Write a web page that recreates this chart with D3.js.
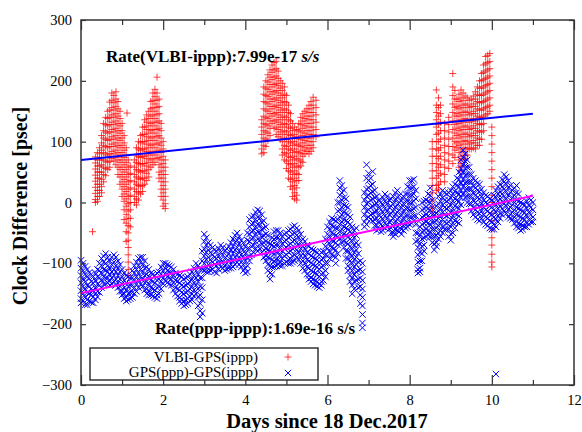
<!DOCTYPE html>
<html>
<head>
<meta charset="utf-8">
<script src="https://cdn.jsdelivr.net/npm/d3@7"></script>
<style>
  body { margin: 0; background: #fff; }
  text { font-family: "Liberation Serif", "Times New Roman", serif; }
</style>
<title>Clock Difference</title>
</head>
<body>
<div id="chart"></div>
<script>
// tick values
var xTicks = [0, 2, 4, 6, 8, 10, 12];
var xMinor = [1, 3, 5, 7, 9, 11];
var yTicks = [-300, -200, -100, 0, 100, 200, 300];

// VLBI-GPS(ippp): [day, [psec values read at that day]]
var vlbiData = [
  [0.28, [-48]],
  [0.35, [75, 65, 55, 45, 35, 25, 15, 5, 0]],
  [0.4, [82, 70, 60, 50, 40, 30, 20, 10, 2]],
  [0.45, [90, 80, 70, 60, 50, 40, 30, 20, 10]],
  [0.5, [110, 98, 86, 74, 62, 50, 38, 26, 16]],
  [0.55, [130, 118, 106, 94, 82, 70, 58, 46, 34]],
  [0.6, [140, 128, 116, 104, 92, 80, 68, 56, 44]],
  [0.65, [150, 138, 126, 114, 102, 90, 78, 66, 54]],
  [0.7, [165, 152, 140, 128, 116, 104, 92, 80, 68, 58]],
  [0.75, [180, 168, 156, 144, 132, 120, 108, 96, 84, 72]],
  [0.8, [176, 164, 152, 140, 128, 116, 104, 92, 80, 68]],
  [0.85, [182, 170, 158, 146, 134, 122, 110, 98, 86, 74, 62]],
  [0.9, [166, 154, 142, 130, 118, 106, 94, 82, 70, 58, 46]],
  [0.95, [150, 138, 126, 114, 102, 90, 78, 66, 54, 42, 30]],
  [1.0, [130, 118, 106, 94, 82, 70, 58, 46, 34, 22, 10]],
  [1.05, [110, 98, 86, 74, 62, 50, 38, 26, 14, 2, -12, -28]],
  [1.1, [90, 78, 66, 54, 42, 30, 18, 6, -6, -20, -34, -48, -64]],
  [1.12, [147]],
  [1.15, [70, 58, 46, 34, 22, 10, -2, -14, -26, -38, -50, -62, -74, -86, -98, -110, -120]],
  [1.2, [60, 48, 36, 24, 12, 0, -12, -26, -40]],
  [1.3, [70, 58, 46, 34, 22, 10, 0]],
  [1.35, [90, 78, 66, 54, 42, 30, 18, 6, -4]],
  [1.4, [100, 88, 76, 64, 52, 40, 28, 16, 4]],
  [1.45, [110, 98, 86, 74, 62, 50, 38, 26, 14]],
  [1.5, [124, 112, 100, 88, 76, 64, 52, 40, 28, 18]],
  [1.55, [136, 124, 112, 100, 88, 76, 64, 52, 40, 30]],
  [1.6, [144, 132, 120, 108, 96, 84, 72, 60, 48, 36]],
  [1.65, [150, 138, 126, 114, 102, 90, 78, 66, 54, 42]],
  [1.7, [166, 154, 142, 130, 118, 106, 94, 82, 70, 58]],
  [1.75, [180, 168, 156, 144, 132, 120, 108, 96, 84, 72, 62]],
  [1.8, [186, 174, 162, 150, 138, 126, 114, 102, 90, 78, 66]],
  [1.85, [206, 180, 168, 156, 144, 132, 120, 108, 96, 84, 72]],
  [1.9, [170, 158, 146, 134, 122, 110, 98, 86, 74, 62, 50, 40]],
  [1.95, [130, 118, 106, 94, 82, 70, 58, 46, 34, 22, 10]],
  [2.0, [100, 88, 76, 64, 52, 40, 28, 16, 4, -6]],
  [2.05, [70, 58, 46, 34, 22, 10, -2, -10]],
  [4.4, [136, 124, 112, 100, 88, 80]],
  [4.45, [190, 178, 166, 154, 142, 130, 118, 106, 94, 82]],
  [4.5, [200, 188, 176, 164, 152, 140, 128, 116, 104, 92]],
  [4.55, [210, 198, 186, 174, 162, 150, 138, 126, 114, 102]],
  [4.6, [218, 206, 194, 182, 170, 158, 146, 134, 122, 110]],
  [4.65, [226, 214, 202, 190, 178, 166, 154, 142, 130]],
  [4.7, [230, 218, 206, 194, 182, 170, 158, 146, 134, 122]],
  [4.75, [232, 220, 208, 196, 184, 172, 160, 148, 136, 124, 112]],
  [4.8, [216, 204, 192, 180, 168, 156, 144, 132, 120, 108]],
  [4.85, [200, 188, 176, 164, 152, 140, 128, 116, 104]],
  [4.9, [196, 184, 172, 160, 148, 136, 124, 112, 100, 88, 78]],
  [4.95, [190, 178, 166, 154, 142, 130, 118, 106, 94, 82, 70]],
  [5.0, [176, 164, 152, 140, 128, 116, 104, 92, 80, 68, 56]],
  [5.05, [160, 148, 136, 124, 112, 100, 88, 76, 64, 52, 40]],
  [5.1, [146, 134, 122, 110, 98, 86, 74, 62, 50, 38, 26]],
  [5.15, [130, 118, 106, 94, 82, 70, 58, 46, 34, 22, 10]],
  [5.2, [124, 112, 100, 88, 76, 64, 52, 40, 28, 16, 6]],
  [5.25, [120, 108, 96, 84, 72, 60, 48, 36, 24, 12, 4]],
  [5.3, [130, 118, 106, 94, 82, 70, 58, 46, 36]],
  [5.35, [140, 128, 116, 104, 92, 80, 68, 60]],
  [5.4, [146, 134, 122, 110, 98, 86, 76, 66]],
  [5.45, [150, 138, 126, 114, 102, 90, 80]],
  [5.5, [154, 142, 130, 118, 106, 94, 84]],
  [5.55, [160, 148, 136, 124, 112, 100, 88, 80]],
  [5.6, [166, 154, 142, 130, 118, 106, 94, 84]],
  [5.65, [173, 160, 148, 136, 124, 112, 100, 90]],
  [5.72, [168, 156, 144, 132, 120, 108]],
  [8.55, [100, 88, 76, 64, 52, 40, 28, 16, 4, -8, -15]],
  [8.65, [185, 160, 148, 136, 124, 112, 100, 88, 76, 64, 52, 40, 28, 20]],
  [8.7, [172, 156, 142, 128, 114, 100, 86, 72, 58, 44, 30, 22]],
  [8.75, [160, 146, 132, 118, 104, 90, 76, 62, 48, 34]],
  [8.85, [130, 118, 106, 94, 82, 70, 58, 46, 34]],
  [8.95, [140, 128, 116, 104, 92, 80, 68, 56]],
  [9.05, [212, 190, 176, 162, 148, 134, 120, 106, 92, 78, 64]],
  [9.1, [184, 170, 156, 142, 128, 114, 100, 86, 74]],
  [9.15, [170, 158, 146, 134, 122, 110, 98, 90]],
  [9.2, [178, 166, 154, 142, 130, 118, 106, 94, 82, 70, 58]],
  [9.25, [185, 172, 160, 148, 136, 124, 112, 100, 88, 76, 64, 52]],
  [9.3, [180, 168, 156, 144, 132, 120, 108, 96, 84, 72, 60]],
  [9.35, [175, 162, 150, 138, 126, 114, 102, 90, 78, 70]],
  [9.4, [172, 160, 148, 136, 124, 112, 100, 88, 78]],
  [9.45, [168, 156, 144, 132, 120, 108, 96, 88]],
  [9.5, [170, 158, 146, 134, 122, 110, 98, 88]],
  [9.55, [175, 162, 150, 138, 126, 114, 102, 90]],
  [9.6, [182, 170, 158, 146, 134, 122, 110, 98, 88]],
  [9.65, [190, 178, 166, 154, 142, 130, 118, 106, 94]],
  [9.7, [200, 188, 176, 164, 152, 140, 128, 116, 104, 94]],
  [9.75, [212, 200, 188, 176, 164, 152, 140, 128, 116, 104]],
  [9.8, [226, 214, 202, 190, 178, 166, 154, 142, 130, 118]],
  [9.85, [240, 228, 216, 204, 192, 180, 168, 156, 144]],
  [9.9, [242, 230, 218, 206, 194, 182, 170, 158, 146]],
  [9.95, [245, 232, 220, 208, 196, 184, 172, 160, 150]],
  [10.0, [124, 110, 96, 82, 68, 54, 40, 26, 12, 0, -18, -30, -45, -58, -70, -85, -98, -106]]
];

// GPS(ppp)-GPS(ippp): [day, [psec values]]
var gpsData = [
  [0.0, [-95, -108, -120, -132, -145, -158, -165]],
  [0.05, [-100, -112, -126, -138, -150, -162]],
  [0.1, [-105, -118, -130, -142, -155, -168]],
  [0.15, [-110, -122, -136, -148, -160, -168]],
  [0.2, [-115, -125, -138, -150, -162]],
  [0.25, [-118, -130, -142, -152, -164]],
  [0.3, [-122, -133, -145, -155, -165]],
  [0.35, [-116, -128, -140, -150, -160]],
  [0.4, [-110, -122, -134, -146, -155]],
  [0.45, [-100, -112, -124, -136, -148]],
  [0.5, [-92, -104, -116, -128, -140]],
  [0.55, [-88, -98, -110, -122, -134]],
  [0.6, [-84, -100, -112, -124, -134]],
  [0.65, [-90, -104, -114, -124, -132]],
  [0.7, [-96, -108, -118, -128, -136]],
  [0.75, [-90, -102, -114, -124, -134]],
  [0.8, [-86, -98, -110, -120, -130]],
  [0.85, [-90, -104, -114, -126, -136]],
  [0.9, [-96, -108, -120, -132, -140]],
  [0.95, [-102, -114, -126, -138, -146]],
  [1.0, [-110, -122, -134, -146, -152]],
  [1.05, [-116, -128, -140, -150, -158]],
  [1.1, [-120, -132, -144, -156, -162]],
  [1.15, [-122, -138, -150, -160]],
  [1.2, [-124, -136, -148, -158]],
  [1.25, [-112, -124, -136, -148, -156]],
  [1.3, [-104, -116, -128, -140, -150]],
  [1.35, [-98, -110, -122, -134, -146]],
  [1.4, [-92, -104, -116, -128, -140]],
  [1.45, [-90, -98, -110, -122, -134]],
  [1.5, [-90, -102, -114, -126, -138]],
  [1.55, [-96, -108, -120, -132, -144]],
  [1.6, [-106, -118, -130, -142, -150]],
  [1.65, [-110, -122, -134, -146, -152]],
  [1.7, [-116, -128, -140, -152]],
  [1.75, [-118, -130, -142, -154]],
  [1.8, [-120, -132, -144, -156]],
  [1.85, [-116, -128, -140, -152, -158]],
  [1.9, [-114, -126, -138, -150]],
  [1.95, [-106, -118, -130, -142]],
  [2.0, [-100, -112, -124, -134]],
  [2.05, [-100, -108, -118, -128]],
  [2.1, [-102, -112, -122, -132]],
  [2.15, [-104, -114, -124, -134]],
  [2.2, [-106, -116, -126, -136]],
  [2.25, [-110, -120, -132, -144]],
  [2.3, [-116, -128, -140, -150]],
  [2.35, [-118, -130, -142, -154]],
  [2.4, [-120, -132, -144, -156, -162]],
  [2.45, [-122, -136, -148, -160, -166]],
  [2.5, [-126, -138, -150, -162, -170]],
  [2.55, [-124, -136, -148, -160, -168]],
  [2.6, [-122, -134, -146, -158, -166]],
  [2.65, [-118, -130, -142, -154, -162]],
  [2.7, [-114, -126, -138, -150, -160]],
  [2.75, [-108, -120, -132, -144, -154]],
  [2.8, [-100, -112, -124, -136, -150]],
  [2.85, [-104, -118, -130, -142, -156, -170]],
  [2.9, [-110, -124, -138, -152, -166, -178, -188]],
  [2.95, [-80, -96, -110, -124, -140, -160, -182]],
  [3.0, [-52, -64, -76, -88, -100, -112]],
  [3.05, [-58, -70, -82, -94, -106, -114]],
  [3.1, [-66, -78, -90, -102, -114]],
  [3.15, [-70, -82, -94, -106, -112]],
  [3.2, [-74, -86, -98, -110]],
  [3.25, [-78, -90, -102, -114]],
  [3.3, [-80, -92, -104, -116]],
  [3.35, [-76, -88, -100, -110]],
  [3.4, [-70, -82, -94, -106]],
  [3.45, [-74, -86, -98, -108]],
  [3.5, [-80, -92, -104, -112]],
  [3.55, [-76, -88, -100, -110]],
  [3.6, [-72, -84, -96, -108]],
  [3.65, [-66, -78, -90, -102, -108]],
  [3.7, [-60, -72, -84, -96, -106]],
  [3.75, [-54, -66, -78, -90, -102]],
  [3.8, [-50, -62, -74, -86, -98]],
  [3.85, [-56, -68, -80, -92, -102]],
  [3.9, [-62, -74, -86, -98, -106]],
  [3.95, [-66, -78, -90, -102, -112]],
  [4.0, [-72, -84, -96, -108, -116]],
  [4.05, [-50, -62, -76, -90, -104, -114]],
  [4.1, [-28, -40, -52, -64, -76, -88, -96]],
  [4.15, [-24, -36, -48, -60, -72, -86]],
  [4.2, [-22, -34, -46, -58, -70, -82]],
  [4.25, [-16, -28, -40, -52, -64, -76]],
  [4.3, [-12, -24, -36, -48, -60, -72, -80]],
  [4.35, [-14, -26, -38, -50, -62, -76]],
  [4.4, [-20, -32, -44, -56, -68, -82]],
  [4.45, [-30, -42, -54, -66, -78, -90]],
  [4.5, [-40, -52, -64, -76, -88, -96]],
  [4.55, [-54, -66, -78, -90, -102, -112]],
  [4.6, [-68, -80, -92, -104, -116, -126]],
  [4.65, [-58, -70, -82, -94, -106, -118]],
  [4.7, [-48, -60, -72, -84, -96, -106]],
  [4.75, [-46, -58, -70, -82, -94, -104]],
  [4.8, [-46, -58, -70, -82, -94, -102]],
  [4.85, [-50, -62, -74, -86, -98, -104]],
  [4.9, [-56, -68, -80, -92, -104]],
  [4.95, [-52, -64, -76, -88, -100]],
  [5.0, [-50, -62, -74, -86, -98]],
  [5.05, [-46, -58, -70, -82, -94, -100]],
  [5.1, [-44, -56, -68, -80, -92, -100]],
  [5.15, [-40, -52, -64, -76, -88, -98]],
  [5.2, [-38, -50, -62, -74, -86, -96]],
  [5.25, [-42, -54, -66, -78, -90]],
  [5.3, [-46, -58, -70, -82, -94]],
  [5.35, [-52, -64, -76, -88, -100]],
  [5.4, [-60, -72, -84, -96, -108]],
  [5.45, [-64, -76, -88, -100, -112]],
  [5.5, [-70, -82, -94, -106, -118]],
  [5.55, [-72, -84, -96, -108, -120, -126]],
  [5.6, [-76, -88, -100, -112, -124, -130]],
  [5.65, [-78, -90, -102, -114, -126, -134]],
  [5.7, [-80, -92, -104, -116, -128, -136]],
  [5.75, [-82, -94, -106, -118, -130, -138]],
  [5.8, [-86, -98, -110, -122, -134, -140]],
  [5.85, [-82, -94, -106, -118, -130, -136]],
  [5.9, [-80, -92, -104, -116, -128]],
  [5.95, [-60, -72, -86, -100, -112, -122]],
  [6.0, [-40, -52, -64, -76, -88, -100]],
  [6.05, [-32, -44, -56, -68, -80, -92]],
  [6.1, [-26, -38, -50, -62, -74, -86]],
  [6.15, [-28, -40, -52, -64, -76, -88]],
  [6.2, [-30, -42, -54, -66, -78, -90, -100]],
  [6.25, [0, -14, -28, -42, -56, -70, -84]],
  [6.3, [36, 24, 12, 0, -12, -24, -36, -48, -60]],
  [6.35, [28, 16, 4, -8, -20, -32, -44, -56, -66]],
  [6.4, [20, 8, -4, -16, -28, -40, -52, -64, -74]],
  [6.45, [6, -6, -18, -30, -42, -54, -66, -80, -92]],
  [6.5, [-8, -20, -32, -44, -56, -68, -80, -92, -104, -112]],
  [6.55, [-24, -36, -48, -60, -72, -84, -96, -108, -120, -130]],
  [6.6, [-40, -52, -64, -76, -88, -100, -112, -124, -136, -150]],
  [6.65, [-46, -58, -70, -82, -94, -106, -118, -130, -142]],
  [6.7, [-42, -54, -66, -78, -90, -102, -114, -128]],
  [6.75, [-70, -84, -98, -112, -126, -140]],
  [6.8, [-96, -110, -124, -138, -152, -166]],
  [6.85, [-100, -114, -128, -142, -156, -170, -184, -198, -206]],
  [6.9, [16, 4, -8, -20, -32, -40]],
  [6.95, [62, 40, 22, 10, -2, -14, -26, -36]],
  [7.0, [48, 36, 24, 12, 0, -12, -24]],
  [7.05, [40, 28, 16, 4, -8, -20, -28]],
  [7.1, [51, 30, 18, 6, -6, -18, -30]],
  [7.15, [20, 8, -4, -16, -28, -38]],
  [7.2, [10, -2, -14, -26, -38, -46]],
  [7.25, [4, -8, -20, -32, -44]],
  [7.3, [0, -12, -24, -36, -48]],
  [7.35, [8, -4, -16, -28, -40, -46]],
  [7.4, [14, 2, -10, -22, -34, -42]],
  [7.45, [10, -2, -14, -26, -38]],
  [7.5, [4, -8, -20, -32, -44]],
  [7.55, [6, -6, -18, -30, -42, -50]],
  [7.6, [10, -2, -14, -26, -38, -50, -56]],
  [7.65, [16, 4, -8, -20, -32, -44, -52]],
  [7.7, [20, 8, -4, -16, -28, -40, -46]],
  [7.75, [12, 0, -12, -24, -36, -48]],
  [7.8, [4, -8, -20, -32, -44, -52]],
  [7.85, [10, -2, -14, -26, -38, -46]],
  [7.9, [14, 2, -10, -22, -34, -42]],
  [7.95, [26, 14, 2, -10, -22, -34, -40]],
  [8.0, [36, 24, 12, 0, -12, -24, -36]],
  [8.05, [36, 24, 12, 0, -12, -24, -34]],
  [8.1, [38, 26, 14, 2, -10, -22, -30]],
  [8.15, [20, 6, -8, -22, -36, -50, -64]],
  [8.2, [-50, -62, -74, -86, -98, -110, -116]],
  [8.25, [-40, -54, -68, -82, -96, -108, -114]],
  [8.3, [0, -12, -24, -36, -48, -60, -72, -84, -96]],
  [8.35, [2, -10, -22, -34, -46, -58, -70, -80]],
  [8.4, [4, -8, -20, -32, -44, -56]],
  [8.45, [14, 2, -10, -22, -34, -46, -54]],
  [8.5, [24, 12, 0, -12, -24, -36, -48, -56]],
  [8.55, [4, -8, -20, -32, -44, -56, -66]],
  [8.6, [-20, -32, -44, -56, -68, -78]],
  [8.65, [-6, -18, -30, -42, -54, -66, -72]],
  [8.7, [10, -2, -14, -26, -38, -50, -60]],
  [8.75, [14, 2, -10, -22, -34, -46, -56]],
  [8.8, [20, 8, -4, -16, -28, -40, -50]],
  [8.85, [16, 4, -8, -20, -32, -44]],
  [8.9, [14, 2, -10, -22, -34, -44]],
  [8.95, [16, 4, -8, -20, -32, -44, -56]],
  [9.0, [20, 8, -4, -16, -28, -40, -52, -62]],
  [9.05, [26, 14, 2, -10, -22, -34, -50]],
  [9.1, [30, 18, 6, -6, -18, -30, -42]],
  [9.15, [40, 28, 16, 4, -8, -20, -32]],
  [9.2, [50, 38, 26, 14, 2, -10, -22, -34]],
  [9.25, [70, 56, 44, 32, 20, 8, -4]],
  [9.3, [86, 74, 62, 50, 38, 26, 14]],
  [9.35, [80, 68, 56, 44, 32, 20, 8]],
  [9.4, [70, 58, 46, 34, 22, 10, 0]],
  [9.45, [58, 46, 34, 22, 10, -2]],
  [9.5, [46, 34, 22, 10, -2, -14]],
  [9.55, [40, 28, 16, 4, -8, -20]],
  [9.6, [36, 24, 12, 0, -12, -24]],
  [9.65, [32, 20, 8, -4, -16, -28]],
  [9.7, [30, 18, 6, -6, -18, -30]],
  [9.75, [22, 10, -2, -14, -26]],
  [9.8, [16, 4, -8, -20, -32]],
  [9.85, [12, 0, -12, -24, -36]],
  [9.9, [10, -2, -14, -26, -38]],
  [9.95, [6, -6, -18, -30, -42]],
  [10.0, [4, -8, -20, -32, -44]],
  [10.05, [12, 0, -12, -24, -36, -44]],
  [10.1, [20, 8, -4, -16, -28, -40, -282]],
  [10.15, [26, 14, 2, -10, -22, -32]],
  [10.2, [30, 18, 6, -6, -18, -26]],
  [10.25, [38, 26, 14, 2, -10, -20]],
  [10.3, [46, 34, 22, 10, -2, -14]],
  [10.35, [42, 30, 18, 6, -6, -18]],
  [10.4, [36, 24, 12, 0, -12, -24]],
  [10.45, [28, 16, 4, -8, -20, -26]],
  [10.5, [20, 8, -4, -16, -28]],
  [10.55, [24, 12, 0, -12, -24, -34]],
  [10.6, [28, 16, 4, -8, -20, -32, -40]],
  [10.65, [14, 2, -10, -22, -34, -42]],
  [10.7, [0, -12, -24, -36, -46]],
  [10.75, [-2, -14, -26, -38, -44]],
  [10.8, [-4, -16, -28, -40]],
  [10.85, [2, -10, -22, -34, -40]],
  [10.9, [8, -4, -16, -28, -36]],
  [10.95, [4, -8, -20, -32]],
  [11.0, [0, -12, -24, -32]]
];

// fitted lines (read at the ends)
var fitDays = [0, 11];
var vlbiFit = [70, 146];
var gpsFit = [-149, 11];

var legendLabels = ["VLBI-GPS(ippp)", "GPS(ppp)-GPS(ippp)"];

var w = 582, h = 432;
var svg = d3.select("#chart").append("svg")
    .attr("width", w)
    .attr("height", h);

var x = d3.scaleLinear().domain([0, 12]).range([81, 574]);
var y = d3.scaleLinear().domain([-300, 300]).range([385, 20]);

function flat(data) {
    var out = [];
    data.forEach(function (d) {
        d[1].forEach(function (v) { out.push([d[0], v]); });
    });
    return out;
}

var plusPath = "M-3.5,0H3.5M0,-3.5V3.5";
var crossPath = "M-3.2,-3.2L3.2,3.2M-3.2,3.2L3.2,-3.2";

// points
svg.append("g").selectAll("path")
    .data(flat(vlbiData))
    .enter().append("path")
    .attr("d", plusPath)
    .attr("transform", function (d) { return "translate(" + x(d[0]) + "," + y(d[1]) + ")"; })
    .style("stroke", "#ff0000")
    .style("stroke-opacity", 0.75)
    .style("stroke-width", 1)
    .style("fill", "none");

svg.append("g").selectAll("path")
    .data(flat(gpsData))
    .enter().append("path")
    .attr("d", crossPath)
    .attr("transform", function (d) { return "translate(" + x(d[0]) + "," + y(d[1]) + ")"; })
    .style("stroke", "#0000ff")
    .style("stroke-width", 1)
    .style("fill", "none");

// fit lines
var line = d3.line()
    .x(function (d) { return x(d[0]); })
    .y(function (d) { return y(d[1]); });

svg.append("path")
    .attr("d", line(fitDays.map(function (t, i) { return [t, vlbiFit[i]]; })))
    .style("stroke", "#0000ff")
    .style("stroke-width", 2)
    .style("fill", "none");

svg.append("path")
    .attr("d", line(fitDays.map(function (t, i) { return [t, gpsFit[i]]; })))
    .style("stroke", "#ff00ff")
    .style("stroke-width", 2)
    .style("fill", "none");

// axes
function styleAxis(g) {
    g.select(".domain").remove();
    g.selectAll("line").style("stroke", "#333").style("stroke-width", 1.2);
    g.selectAll("text")
        .style("font-family", "'Liberation Serif', serif")
        .style("font-size", "14.5px")
        .style("fill", "#000");
}

svg.append("g").attr("transform", "translate(0,385)")
    .call(d3.axisBottom(x).tickValues(xTicks).tickSize(-10).tickPadding(10).tickFormat(d3.format("d")))
    .call(styleAxis);
svg.append("g").attr("transform", "translate(0,385)")
    .call(d3.axisBottom(x).tickValues(xMinor).tickSize(-5).tickFormat(""))
    .call(styleAxis);
svg.append("g").attr("transform", "translate(0,20)")
    .call(d3.axisTop(x).tickValues(xTicks).tickSize(-10).tickFormat(""))
    .call(styleAxis);
svg.append("g").attr("transform", "translate(0,20)")
    .call(d3.axisTop(x).tickValues(xMinor).tickSize(-5).tickFormat(""))
    .call(styleAxis);
svg.append("g").attr("transform", "translate(81,0)")
    .call(d3.axisLeft(y).tickValues(yTicks).tickSize(-5).tickPadding(9).tickFormat(d3.format("d")))
    .call(styleAxis);
svg.append("g").attr("transform", "translate(574,0)")
    .call(d3.axisRight(y).tickValues(yTicks).tickSize(-5).tickFormat(""))
    .call(styleAxis);

// frame
svg.append("rect")
    .attr("x", x(0)).attr("y", y(300))
    .attr("width", x(12) - x(0)).attr("height", y(-300) - y(300))
    .style("fill", "none")
    .style("stroke", "#333")
    .style("stroke-width", 1.5);

// rate annotations
var r1 = svg.append("text")
    .attr("x", 106).attr("y", 62)
    .style("font-size", "17px").style("font-weight", "bold");
r1.append("tspan").text("Rate(VLBI-ippp):7.99e-17 ");
r1.append("tspan").style("font-style", "italic").text("s/s");

svg.append("text")
    .attr("x", 155).attr("y", 334)
    .style("font-size", "17px").style("font-weight", "bold")
    .text("Rate(ppp-ippp):1.69e-16 s/s");

// legend
svg.append("rect")
    .attr("x", 90).attr("y", 348)
    .attr("width", 228).attr("height", 32)
    .style("fill", "#fff")
    .style("stroke", "#333")
    .style("stroke-width", 1.5);

svg.append("text")
    .attr("x", 258).attr("y", 362)
    .attr("text-anchor", "end")
    .style("font-size", "15px")
    .text(legendLabels[0]);
svg.append("text")
    .attr("x", 258).attr("y", 377)
    .attr("text-anchor", "end")
    .style("font-size", "15px")
    .text(legendLabels[1]);
svg.append("path").attr("d", plusPath)
    .attr("transform", "translate(288,357)")
    .style("stroke", "#ff0000").style("stroke-opacity", 0.75).style("fill", "none");
svg.append("path").attr("d", crossPath)
    .attr("transform", "translate(288,373)")
    .style("stroke", "#0000ff").style("fill", "none");

// axis titles
svg.append("text")
    .attr("transform", "translate(27,206) rotate(-90)")
    .attr("text-anchor", "middle")
    .style("font-size", "20px").style("font-weight", "bold")
    .text("Clock Difference [psec]");

svg.append("text")
    .attr("x", 327).attr("y", 428)
    .attr("text-anchor", "middle")
    .style("font-size", "20.5px").style("font-weight", "bold")
    .text("Days since 18 Dec.2017");
</script>
</body>
</html>
